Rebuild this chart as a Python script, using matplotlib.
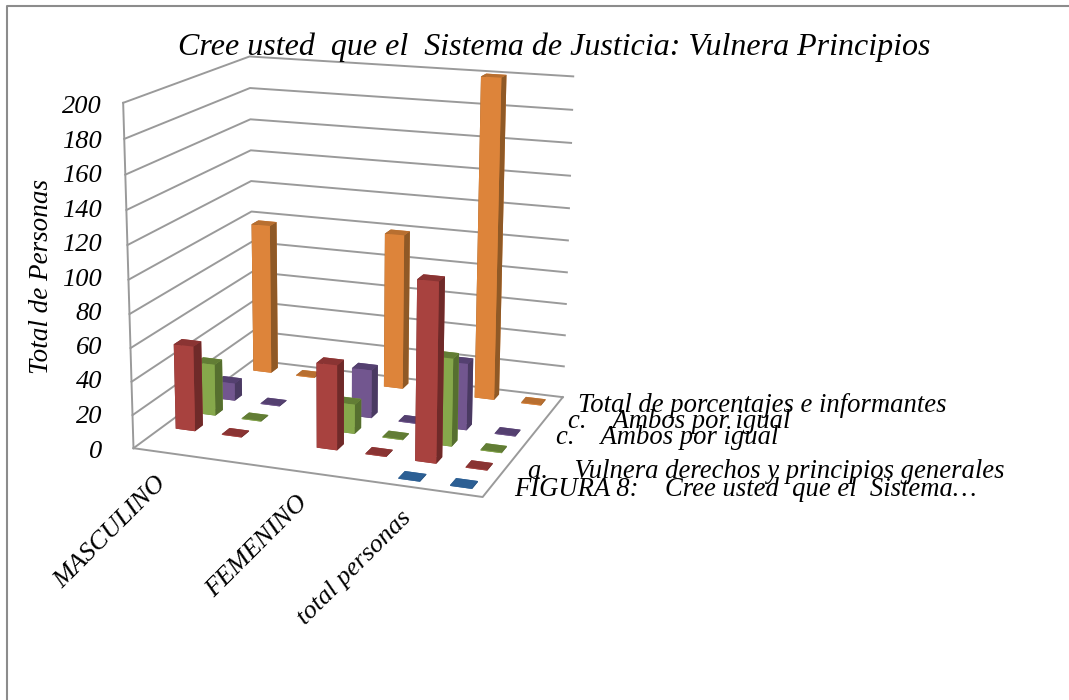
import numpy as np
import matplotlib
matplotlib.use('Agg')
import matplotlib.pyplot as plt
from matplotlib.lines import Line2D

W, H = 1069, 700
N = np.nan

# data (index 2 and the fifth row are blank in the workbook)
categorias = ['MASCULINO', '', '', 'FEMENINO', '', 'total personas', '']
series = ['FIGURA 8:    Cree usted  que el  Sistema\u2026',
          'a.    Vulnera derechos y principios generales',
          '',
          'c.    Ambos por igual',
          'c.    Ambos por igual',
          'Total de porcentajes e informantes']
figura = [N, N, N, N, N, 0.5, 0.5]
vulnera = [52, 0.5, N, 51, 0.5, 106, 0.5]
ambos1 = [32, 0.5, N, 18, 0.5, 53, 0.5]
ambos2 = [11, 0.5, N, 30, 0.5, 41, 0.5]
vacia = [N, N, N, N, N, N, N]
total = [97, 0.5, N, 99, 0.5, 200, 0.5]
valores = [figura, vulnera, ambos1, ambos2, vacia, total]
ticks = list(range(0, 201, 20))

# front, top, side
colores = [('#2F6296', '#2C5F94', '#234C78'),
           ('#A8423F', '#8A3433', '#6F2A29'),
           ('#86A84B', '#627D35', '#566F2F'),
           ('#72568F', '#544070', '#4A3A62'),
           ('#000000', '#000000', '#000000'),
           ('#DD843A', '#B86F30', '#8F5926')]
GRIS = '#9A9A9A'
FUENTE = 'Liberation Serif'
NX, NY = len(categorias), len(series)

fig = plt.figure(figsize=(W / 100, H / 100), dpi=100)
lado = 562
ax = fig.add_axes([68.3 / W, (H - 547.9) / H, lado / W, lado / H], projection='3d')
ax.set_xlim(0, NX, view_margin=0)
ax.set_ylim(0, NY, view_margin=0)
ax.set_zlim(0, 200, view_margin=0)
ax.view_init(elev=15.06, azim=-69.77, roll=-0.15)
ax.set_proj_type('persp', focal_length=0.6235)
ax.set_box_aspect((1, 0.8321, 0.9622))
ax.set_axis_off()
ax.computed_zorder = False
ax.patch.set_alpha(0)

# walls and floor
for t in ticks:
    ax.plot([0, 0, NX], [0, NY, NY], [t, t, t], color=GRIS, lw=1.4, zorder=1)
ax.plot([0, 0], [0, 0], [0, 200], color=GRIS, lw=1.4, zorder=1)
ax.plot([0, NX, NX], [0, 0, NY], [0, 0, 0], color=GRIS, lw=1.4, zorder=1)

# bars, back to front
ancho = 0.42
fondo = 0.38
barras = []
for j, vals in enumerate(valores):
    for i, v in enumerate(vals):
        if not np.isnan(v):
            barras.append((i, j, v))
barras.sort(key=lambda b: 0.345 * b[0] / NX - 0.94 * 0.8321 * b[1] / NY)
for n, (i, j, v) in enumerate(barras):
    fr, to, si = colores[j]
    # bottom, top, -y, +y, -x, +x
    caras = [to, to, fr, fr, si, si]
    ax.bar3d(i + 0.5 - ancho / 2, j + 0.5 - fondo / 2, 0, ancho, fondo, v,
             color=caras, shade=False, linewidth=0, zorder=2 + n)


def texto(x, y, s, **kw):
    kw.setdefault('family', FUENTE)
    kw.setdefault('style', 'italic')
    kw.setdefault('color', 'black')
    return fig.text(x / W, 1 - y / H, s, **kw)


# tick labels
yticks = [452, 417, 382, 348, 314, 280, 245, 211, 176, 142, 107]
for t, y in zip(ticks, yticks):
    texto(102, y, str(t), fontsize=19, ha='right', va='center')

texto(42, 277, 'Total de Personas', fontsize=19.5, rotation=90, ha='center', va='center')
texto(554.5, 47, 'Cree usted  que el  Sistema de Justicia: Vulnera Principios',
      fontsize=23, ha='center', va='center')

# category labels
pos_cat = {0: (163, 480), 3: (304, 499), 5: (408, 515)}
for i, (x, y) in pos_cat.items():
    texto(x, y, categorias[i], fontsize=19, rotation=45, ha='right', va='center',
          rotation_mode='anchor')

# series labels
pos_ser = {0: (514, 489), 1: (528, 471), 3: (556, 438), 4: (568, 422), 5: (578, 406)}
for j, (x, y) in pos_ser.items():
    texto(x, y, series[j], fontsize=19.2, ha='left', va='center')

# frame
fig.add_artist(Line2D([6.5 / W, 6.5 / W, 1], [0, 1 - 6 / H, 1 - 6 / H], color='#8C8C8C', lw=1.5))

fig.savefig('out.png', dpi=100)
